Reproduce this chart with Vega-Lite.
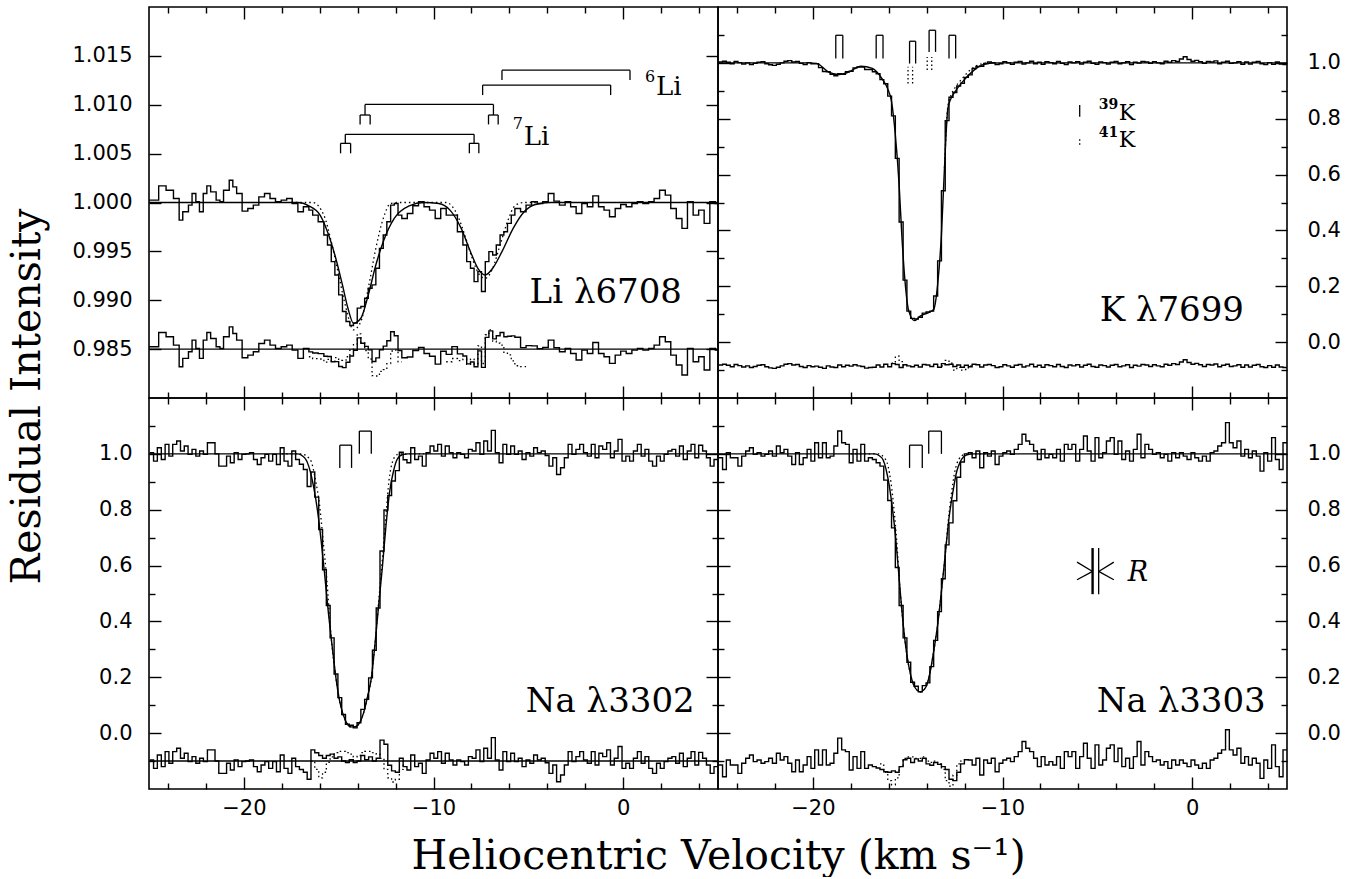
{
"$schema":"https://vega.github.io/schema/vega-lite/v6.json",
"background":"white",
"padding":{"left":5,"top":5,"right":5,"bottom":0},
"config":{"view":{"stroke":"black","strokeWidth":1.6},
"axis":{"grid":false,"domain":false,"tickColor":"black","tickWidth":1.4,"labelFont":"DejaVu Sans","labelFontSize":21,"labelColor":"black","titleFont":"DejaVu Serif","titleFontSize":41,"titleFontWeight":"normal","titleColor":"black"},
"line":{"color":"black"},"rule":{"color":"black"},"text":{"color":"black"}},
"spacing":0,"bounds":"flush","columns":2,
"concat":[
{"width":569,"height":391,"resolve":{"axis":{"x":"independent","y":"independent"}},
"layer":[
{"data":{"name":"li"},"mark":{"type":"line","interpolate":"step-after","strokeWidth":1.4},
"encoding":{"x":{"field":"x","type":"quantitative","scale":{"domain":[-25,5],"nice":false,"zero":false},"axis":null},
"y":{"field":"o","type":"quantitative","scale":{"domain":[0.98,1.02],"nice":false,"zero":false},"axis":{"orient":"left","values":[0.985,0.99,0.995,1,1.005,1.01,1.015],"format":".3f","ticks":false,"labelPadding":17,"title":"Residual Intensity","titleX":-122,"titleY":389,"titleAngle":-90,"titleAlign":"center","titleBaseline":"middle"}}}},
{"data":{"name":"li"},"mark":{"type":"line","interpolate":"step-after","strokeWidth":1.4},
"encoding":{"x":{"field":"x","type":"quantitative","scale":{"domain":[-25,5],"nice":false,"zero":false},"axis":{"orient":"bottom","values":[-20,-10,0],"tickSize":-12,"labels":false,"title":null}},
"y":{"field":"r","type":"quantitative","scale":{"domain":[0.98,1.02],"nice":false,"zero":false},"axis":{"orient":"left","values":[0.985,0.99,0.995,1,1.005,1.01,1.015],"tickSize":-12,"labels":false,"title":null}}}},
{"data":{"name":"liFit"},"mark":{"type":"line","interpolate":"monotone","strokeWidth":1.4},
"encoding":{"x":{"field":"x","type":"quantitative","scale":{"domain":[-25,5],"nice":false,"zero":false},"axis":{"orient":"bottom","values":[-24,-22,-18,-16,-14,-12,-8,-6,-4,-2,2,4],"tickSize":-6,"labels":false,"title":null}},
"y":{"field":"y","type":"quantitative","scale":{"domain":[0.98,1.02],"nice":false,"zero":false},"axis":null}}},
{"data":{"name":"liDot"},"mark":{"type":"line","interpolate":"monotone","strokeWidth":1.3,"strokeDash":[1.5,3]},
"encoding":{"x":{"field":"x","type":"quantitative","scale":{"domain":[-25,5],"nice":false,"zero":false},"axis":{"orient":"top","values":[-20,-10,0],"tickSize":-12,"labels":false,"title":null}},
"y":{"field":"y","type":"quantitative","scale":{"domain":[0.98,1.02],"nice":false,"zero":false},"axis":{"orient":"right","values":[0.985,0.99,0.995,1,1.005,1.01,1.015],"tickSize":-12,"labels":false,"title":null}}}},
{"data":{"name":"liDotRes"},"mark":{"type":"line","interpolate":"step-after","strokeWidth":1.3,"strokeDash":[1.5,3]},
"encoding":{"x":{"field":"x","type":"quantitative","scale":{"domain":[-25,5],"nice":false,"zero":false},"axis":{"orient":"top","values":[-24,-22,-18,-16,-14,-12,-8,-6,-4,-2,2,4],"tickSize":-6,"labels":false,"title":null}},
"y":{"field":"y","type":"quantitative","scale":{"domain":[0.98,1.02],"nice":false,"zero":false},"axis":null},"detail":{"field":"g","type":"nominal"}}},
{"data":{"values":[{}]},"mark":{"type":"rule","strokeWidth":1.4},"encoding":{"y":{"datum":0.985,"type":"quantitative","axis":null}}},
{"data":{"name":"liSeg"},"mark":{"type":"rule","strokeWidth":1.3},"encoding":{"x":{"field":"x","type":"quantitative","axis":null},"x2":{"field":"x2"},"y":{"field":"y","type":"quantitative","axis":null},"y2":{"field":"y2"}}},
{"data":{"name":"liSup"},"mark":{"type":"text","font":"DejaVu Serif","fontSize":16,"align":"left","baseline":"alphabetic"},"encoding":{"x":{"field":"x","type":"quantitative","axis":null},"y":{"field":"y","type":"quantitative","axis":null},"text":{"field":"t"}}},
{"data":{"name":"liTxt"},"mark":{"type":"text","font":"DejaVu Serif","fontSize":26,"align":"left","baseline":"alphabetic"},"encoding":{"x":{"field":"x","type":"quantitative","axis":null},"y":{"field":"y","type":"quantitative","axis":null},"text":{"field":"t"}}},
{"data":{"name":"liLab"},"mark":{"type":"text","font":"DejaVu Serif","fontSize":34,"align":"right","baseline":"alphabetic"},"encoding":{"x":{"field":"x","type":"quantitative","axis":null},"y":{"field":"y","type":"quantitative","axis":null},"text":{"field":"t"}}}
]},
{"width":569,"height":391,"resolve":{"axis":{"x":"independent","y":"independent"}},
"layer":[
{"data":{"name":"k"},"mark":{"type":"line","interpolate":"step-after","strokeWidth":1.4},
"encoding":{"x":{"field":"x","type":"quantitative","scale":{"domain":[-25,5],"nice":false,"zero":false},"axis":null},
"y":{"field":"o","type":"quantitative","scale":{"domain":[-0.2,1.2],"nice":false,"zero":false},"axis":{"orient":"right","values":[0,0.2,0.4,0.6,0.8,1],"format":".1f","ticks":false,"labelPadding":20,"title":null}}}},
{"data":{"name":"k"},"mark":{"type":"line","interpolate":"step-after","strokeWidth":1.4},
"encoding":{"x":{"field":"x","type":"quantitative","scale":{"domain":[-25,5],"nice":false,"zero":false},"axis":{"orient":"bottom","values":[-20,-10,0],"tickSize":-12,"labels":false,"title":null}},
"y":{"field":"r","type":"quantitative","scale":{"domain":[-0.2,1.2],"nice":false,"zero":false},"axis":{"orient":"right","values":[0,0.2,0.4,0.6,0.8,1],"tickSize":-12,"labels":false,"title":null}}}},
{"data":{"name":"kFit"},"mark":{"type":"line","interpolate":"monotone","strokeWidth":1.4},
"encoding":{"x":{"field":"x","type":"quantitative","scale":{"domain":[-25,5],"nice":false,"zero":false},"axis":{"orient":"bottom","values":[-24,-22,-18,-16,-14,-12,-8,-6,-4,-2,2,4],"tickSize":-6,"labels":false,"title":null}},
"y":{"field":"y","type":"quantitative","scale":{"domain":[-0.2,1.2],"nice":false,"zero":false},"axis":{"orient":"right","values":[-0.1,0.1,0.3,0.5,0.7,0.9,1.1],"tickSize":-6,"labels":false,"title":null}}}},
{"data":{"name":"kDot"},"mark":{"type":"line","interpolate":"monotone","strokeWidth":1.3,"strokeDash":[1.5,3]},
"encoding":{"x":{"field":"x","type":"quantitative","scale":{"domain":[-25,5],"nice":false,"zero":false},"axis":{"orient":"top","values":[-20,-10,0],"tickSize":-12,"labels":false,"title":null}},
"y":{"field":"y","type":"quantitative","scale":{"domain":[-0.2,1.2],"nice":false,"zero":false},"axis":{"orient":"left","values":[0,0.2,0.4,0.6,0.8,1],"tickSize":-12,"labels":false,"title":null}}}},
{"data":{"name":"kDotRes"},"mark":{"type":"line","interpolate":"step-after","strokeWidth":1.3,"strokeDash":[1.5,3]},
"encoding":{"x":{"field":"x","type":"quantitative","scale":{"domain":[-25,5],"nice":false,"zero":false},"axis":{"orient":"top","values":[-24,-22,-18,-16,-14,-12,-8,-6,-4,-2,2,4],"tickSize":-6,"labels":false,"title":null}},
"y":{"field":"y","type":"quantitative","scale":{"domain":[-0.2,1.2],"nice":false,"zero":false},"axis":{"orient":"left","values":[-0.1,0.1,0.3,0.5,0.7,0.9,1.1],"tickSize":-6,"labels":false,"title":null}},"detail":{"field":"g","type":"nominal"}}},
{"data":{"name":"kSeg"},"mark":{"type":"rule","strokeWidth":1.3},"encoding":{"x":{"field":"x","type":"quantitative","axis":null},"x2":{"field":"x2"},"y":{"field":"y","type":"quantitative","axis":null},"y2":{"field":"y2"}}},
{"data":{"name":"kDotSeg"},"mark":{"type":"rule","strokeWidth":1.3,"strokeDash":[1.5,2.5]},"encoding":{"x":{"field":"x","type":"quantitative","axis":null},"x2":{"field":"x2"},"y":{"field":"y","type":"quantitative","axis":null},"y2":{"field":"y2"}}},
{"data":{"name":"kSup"},"mark":{"type":"text","font":"DejaVu Serif","fontSize":14,"fontWeight":"bold","align":"left","baseline":"alphabetic"},"encoding":{"x":{"field":"x","type":"quantitative","axis":null},"y":{"field":"y","type":"quantitative","axis":null},"text":{"field":"t"}}},
{"data":{"name":"kTxt"},"mark":{"type":"text","font":"DejaVu Serif","fontSize":22,"align":"left","baseline":"alphabetic"},"encoding":{"x":{"field":"x","type":"quantitative","axis":null},"y":{"field":"y","type":"quantitative","axis":null},"text":{"field":"t"}}},
{"data":{"name":"kLab"},"mark":{"type":"text","font":"DejaVu Serif","fontSize":34,"align":"right","baseline":"alphabetic"},"encoding":{"x":{"field":"x","type":"quantitative","axis":null},"y":{"field":"y","type":"quantitative","axis":null},"text":{"field":"t"}}}
]},
{"width":569,"height":391,"resolve":{"axis":{"x":"independent","y":"independent"}},
"layer":[
{"data":{"name":"n2"},"mark":{"type":"line","interpolate":"step-after","strokeWidth":1.4},
"encoding":{"x":{"field":"x","type":"quantitative","scale":{"domain":[-25,5],"nice":false,"zero":false},"axis":{"orient":"bottom","values":[-20,-10,0],"ticks":false,"labelPadding":8,"title":"Heliocentric Velocity (km s⁻¹)","titleX":569,"titleY":79,"titleAlign":"center","titleAnchor":"middle","titleBaseline":"alphabetic","titleAngle":0}},
"y":{"field":"o","type":"quantitative","scale":{"domain":[-0.2,1.2],"nice":false,"zero":false},"axis":{"orient":"left","values":[0,0.2,0.4,0.6,0.8,1],"format":".1f","ticks":false,"labelPadding":17,"title":null}}}},
{"data":{"name":"n2"},"mark":{"type":"line","interpolate":"step-after","strokeWidth":1.4},
"encoding":{"x":{"field":"x","type":"quantitative","scale":{"domain":[-25,5],"nice":false,"zero":false},"axis":{"orient":"bottom","values":[-20,-10,0],"tickSize":-12,"labels":false,"title":null}},
"y":{"field":"r","type":"quantitative","scale":{"domain":[-0.2,1.2],"nice":false,"zero":false},"axis":{"orient":"left","values":[0,0.2,0.4,0.6,0.8,1],"tickSize":-12,"labels":false,"title":null}}}},
{"data":{"name":"n2Fit"},"mark":{"type":"line","interpolate":"monotone","strokeWidth":1.4},
"encoding":{"x":{"field":"x","type":"quantitative","scale":{"domain":[-25,5],"nice":false,"zero":false},"axis":{"orient":"bottom","values":[-24,-22,-18,-16,-14,-12,-8,-6,-4,-2,2,4],"tickSize":-6,"labels":false,"title":null}},
"y":{"field":"y","type":"quantitative","scale":{"domain":[-0.2,1.2],"nice":false,"zero":false},"axis":{"orient":"left","values":[-0.1,0.1,0.3,0.5,0.7,0.9,1.1],"tickSize":-6,"labels":false,"title":null}}}},
{"data":{"name":"n2Dot"},"mark":{"type":"line","interpolate":"monotone","strokeWidth":1.3,"strokeDash":[1.5,3]},
"encoding":{"x":{"field":"x","type":"quantitative","scale":{"domain":[-25,5],"nice":false,"zero":false},"axis":{"orient":"top","values":[-20,-10,0],"tickSize":-12,"labels":false,"title":null}},
"y":{"field":"y","type":"quantitative","scale":{"domain":[-0.2,1.2],"nice":false,"zero":false},"axis":{"orient":"right","values":[0,0.2,0.4,0.6,0.8,1],"tickSize":-12,"labels":false,"title":null}}}},
{"data":{"name":"n2DotRes"},"mark":{"type":"line","interpolate":"step-after","strokeWidth":1.3,"strokeDash":[1.5,3]},
"encoding":{"x":{"field":"x","type":"quantitative","scale":{"domain":[-25,5],"nice":false,"zero":false},"axis":{"orient":"top","values":[-24,-22,-18,-16,-14,-12,-8,-6,-4,-2,2,4],"tickSize":-6,"labels":false,"title":null}},
"y":{"field":"y","type":"quantitative","scale":{"domain":[-0.2,1.2],"nice":false,"zero":false},"axis":{"orient":"right","values":[-0.1,0.1,0.3,0.5,0.7,0.9,1.1],"tickSize":-6,"labels":false,"title":null}}}},
{"data":{"values":[{}]},"mark":{"type":"rule","strokeWidth":1.4},"encoding":{"y":{"datum":-0.1,"type":"quantitative","axis":null}}},
{"data":{"name":"n2Seg"},"mark":{"type":"rule","strokeWidth":1.3},"encoding":{"x":{"field":"x","type":"quantitative","axis":null},"x2":{"field":"x2"},"y":{"field":"y","type":"quantitative","axis":null},"y2":{"field":"y2"}}},
{"data":{"name":"n2Lab"},"mark":{"type":"text","font":"DejaVu Serif","fontSize":34,"align":"right","baseline":"alphabetic"},"encoding":{"x":{"field":"x","type":"quantitative","axis":null},"y":{"field":"y","type":"quantitative","axis":null},"text":{"field":"t"}}}
]},
{"width":569,"height":391,"resolve":{"axis":{"x":"independent","y":"independent"}},
"layer":[
{"data":{"name":"n3"},"mark":{"type":"line","interpolate":"step-after","strokeWidth":1.4},
"encoding":{"x":{"field":"x","type":"quantitative","scale":{"domain":[-25,5],"nice":false,"zero":false},"axis":{"orient":"bottom","values":[-20,-10,0],"ticks":false,"labelPadding":8,"title":null}},
"y":{"field":"o","type":"quantitative","scale":{"domain":[-0.2,1.2],"nice":false,"zero":false},"axis":{"orient":"right","values":[0,0.2,0.4,0.6,0.8,1],"format":".1f","ticks":false,"labelPadding":20,"title":null}}}},
{"data":{"name":"n3"},"mark":{"type":"line","interpolate":"step-after","strokeWidth":1.4},
"encoding":{"x":{"field":"x","type":"quantitative","scale":{"domain":[-25,5],"nice":false,"zero":false},"axis":{"orient":"bottom","values":[-20,-10,0],"tickSize":-12,"labels":false,"title":null}},
"y":{"field":"r","type":"quantitative","scale":{"domain":[-0.2,1.2],"nice":false,"zero":false},"axis":{"orient":"right","values":[0,0.2,0.4,0.6,0.8,1],"tickSize":-12,"labels":false,"title":null}}}},
{"data":{"name":"n3Fit"},"mark":{"type":"line","interpolate":"monotone","strokeWidth":1.4},
"encoding":{"x":{"field":"x","type":"quantitative","scale":{"domain":[-25,5],"nice":false,"zero":false},"axis":{"orient":"bottom","values":[-24,-22,-18,-16,-14,-12,-8,-6,-4,-2,2,4],"tickSize":-6,"labels":false,"title":null}},
"y":{"field":"y","type":"quantitative","scale":{"domain":[-0.2,1.2],"nice":false,"zero":false},"axis":{"orient":"right","values":[-0.1,0.1,0.3,0.5,0.7,0.9,1.1],"tickSize":-6,"labels":false,"title":null}}}},
{"data":{"name":"n3Dot"},"mark":{"type":"line","interpolate":"monotone","strokeWidth":1.3,"strokeDash":[1.5,3]},
"encoding":{"x":{"field":"x","type":"quantitative","scale":{"domain":[-25,5],"nice":false,"zero":false},"axis":{"orient":"top","values":[-20,-10,0],"tickSize":-12,"labels":false,"title":null}},
"y":{"field":"y","type":"quantitative","scale":{"domain":[-0.2,1.2],"nice":false,"zero":false},"axis":{"orient":"left","values":[0,0.2,0.4,0.6,0.8,1],"tickSize":-12,"labels":false,"title":null}}}},
{"data":{"name":"n3DotRes"},"mark":{"type":"line","interpolate":"step-after","strokeWidth":1.3,"strokeDash":[1.5,3]},
"encoding":{"x":{"field":"x","type":"quantitative","scale":{"domain":[-25,5],"nice":false,"zero":false},"axis":{"orient":"top","values":[-24,-22,-18,-16,-14,-12,-8,-6,-4,-2,2,4],"tickSize":-6,"labels":false,"title":null}},
"y":{"field":"y","type":"quantitative","scale":{"domain":[-0.2,1.2],"nice":false,"zero":false},"axis":{"orient":"left","values":[-0.1,0.1,0.3,0.5,0.7,0.9,1.1],"tickSize":-6,"labels":false,"title":null}}}},
{"data":{"name":"n3Seg"},"mark":{"type":"rule","strokeWidth":1.3},"encoding":{"x":{"field":"x","type":"quantitative","axis":null},"x2":{"field":"x2"},"y":{"field":"y","type":"quantitative","axis":null},"y2":{"field":"y2"}}},
{"data":{"name":"n3Thick"},"mark":{"type":"rule","strokeWidth":2.4},"encoding":{"x":{"field":"x","type":"quantitative","axis":null},"x2":{"field":"x2"},"y":{"field":"y","type":"quantitative","axis":null},"y2":{"field":"y2"}}},
{"data":{"name":"n3R"},"mark":{"type":"text","font":"DejaVu Serif","fontSize":27,"fontStyle":"italic","align":"left","baseline":"alphabetic"},"encoding":{"x":{"field":"x","type":"quantitative","axis":null},"y":{"field":"y","type":"quantitative","axis":null},"text":{"field":"t"}}},
{"data":{"name":"n3Lab"},"mark":{"type":"text","font":"DejaVu Serif","fontSize":34,"align":"right","baseline":"alphabetic"},"encoding":{"x":{"field":"x","type":"quantitative","axis":null},"y":{"field":"y","type":"quantitative","axis":null},"text":{"field":"t"}}}
]}
],
"datasets":{
"li":[{"x":-25,"o":1.00024,"r":0.98524},{"x":-24.49,"o":1.0017,"r":0.9867},{"x":-24.1,"o":1.00126,"r":0.98626},{"x":-23.71,"o":1.00041,"r":0.98541},{"x":-23.41,"o":0.9982,"r":0.9832},{"x":-23.22,"o":0.99905,"r":0.98405},{"x":-22.92,"o":0.99973,"r":0.98473},{"x":-22.73,"o":1.00092,"r":0.98592},{"x":-22.53,"o":1.00007,"r":0.98507},{"x":-22.34,"o":0.99905,"r":0.98405},{"x":-22.14,"o":1.00092,"r":0.98592},{"x":-21.95,"o":1.0017,"r":0.9867},{"x":-21.75,"o":1.00109,"r":0.98609},{"x":-21.46,"o":1.00024,"r":0.98524},{"x":-21.26,"o":1.00007,"r":0.98507},{"x":-21.07,"o":1.00126,"r":0.98626},{"x":-20.77,"o":1.00228,"r":0.98728},{"x":-20.58,"o":1.0016,"r":0.9866},{"x":-20.38,"o":1.00092,"r":0.98592},{"x":-20.09,"o":0.99912,"r":0.98412},{"x":-19.79,"o":0.99939,"r":0.98439},{"x":-19.5,"o":0.99973,"r":0.98473},{"x":-19.21,"o":1.00058,"r":0.98558},{"x":-18.91,"o":1.00092,"r":0.98592},{"x":-18.62,"o":1.00041,"r":0.98541},{"x":-18.33,"o":1.00007,"r":0.98507},{"x":-18.03,"o":1.00024,"r":0.98524},{"x":-17.74,"o":1.00041,"r":0.98541},{"x":-17.45,"o":0.9999,"r":0.9849},{"x":-17.15,"o":0.99905,"r":0.98405},{"x":-16.86,"o":0.99956,"r":0.98506},{"x":-16.57,"o":0.99922,"r":0.98472},{"x":-16.37,"o":0.99871,"r":0.98461},{"x":-16.08,"o":0.99803,"r":0.98454},{"x":-15.78,"o":0.99667,"r":0.98427},{"x":-15.59,"o":0.99565,"r":0.98425},{"x":-15.39,"o":0.99395,"r":0.98371},{"x":-15.2,"o":0.99259,"r":0.98372},{"x":-15,"o":0.99055,"r":0.98322},{"x":-14.8,"o":0.98885,"r":0.98311},{"x":-14.61,"o":0.98783,"r":0.98365},{"x":-14.41,"o":0.98742,"r":0.9843},{"x":-14.22,"o":0.98766,"r":0.98488},{"x":-14.02,"o":0.98919,"r":0.98615},{"x":-13.83,"o":0.98936,"r":0.9856},{"x":-13.63,"o":0.99021,"r":0.98528},{"x":-13.44,"o":0.99123,"r":0.98492},{"x":-13.24,"o":0.99157,"r":0.98373},{"x":-13.04,"o":0.99327,"r":0.98411},{"x":-12.85,"o":0.99531,"r":0.98493},{"x":-12.65,"o":0.99667,"r":0.98531},{"x":-12.46,"o":0.99803,"r":0.98585},{"x":-12.26,"o":0.99973,"r":0.98677},{"x":-12.07,"o":0.9999,"r":0.98637},{"x":-11.87,"o":0.99871,"r":0.98485},{"x":-11.67,"o":0.99837,"r":0.98412},{"x":-11.38,"o":0.99888,"r":0.9842},{"x":-11.09,"o":0.99966,"r":0.98486},{"x":-10.79,"o":1.00007,"r":0.98517},{"x":-10.5,"o":0.99956,"r":0.98456},{"x":-10.21,"o":0.99922,"r":0.98427},{"x":-9.91,"o":0.99837,"r":0.98347},{"x":-9.62,"o":0.99939,"r":0.98479},{"x":-9.33,"o":0.99871,"r":0.98446},{"x":-9.03,"o":0.99871,"r":0.98526},{"x":-8.74,"o":0.99701,"r":0.98451},{"x":-8.45,"o":0.99565,"r":0.98429},{"x":-8.25,"o":0.99395,"r":0.98349},{"x":-8.05,"o":0.99327,"r":0.98369},{"x":-7.86,"o":0.99191,"r":0.9832},{"x":-7.66,"o":0.99293,"r":0.98482},{"x":-7.47,"o":0.99089,"r":0.98313},{"x":-7.27,"o":0.99395,"r":0.9862},{"x":-7.08,"o":0.99497,"r":0.98687},{"x":-6.88,"o":0.99463,"r":0.98605},{"x":-6.69,"o":0.99565,"r":0.98637},{"x":-6.49,"o":0.99667,"r":0.9867},{"x":-6.29,"o":0.99701,"r":0.98627},{"x":-6.1,"o":0.99786,"r":0.98631},{"x":-5.9,"o":0.99871,"r":0.98636},{"x":-5.71,"o":0.99939,"r":0.98622},{"x":-5.41,"o":0.99905,"r":0.98515},{"x":-5.12,"o":0.99973,"r":0.98536},{"x":-4.83,"o":1.00007,"r":0.98533},{"x":-4.53,"o":0.9999,"r":0.98505},{"x":-4.24,"o":1.00007,"r":0.98517},{"x":-3.95,"o":1.00092,"r":0.98592},{"x":-3.65,"o":1.00014,"r":0.98514},{"x":-3.36,"o":0.99973,"r":0.98473},{"x":-3.06,"o":1.00007,"r":0.98507},{"x":-2.77,"o":0.99956,"r":0.98456},{"x":-2.48,"o":0.99888,"r":0.98388},{"x":-2.18,"o":0.9999,"r":0.9849},{"x":-1.89,"o":0.99956,"r":0.98456},{"x":-1.6,"o":1.00068,"r":0.98568},{"x":-1.3,"o":0.99956,"r":0.98456},{"x":-1.01,"o":0.99922,"r":0.98422},{"x":-0.72,"o":0.99854,"r":0.98354},{"x":-0.42,"o":0.99939,"r":0.98439},{"x":-0.13,"o":0.9998,"r":0.9848},{"x":0.16,"o":0.99956,"r":0.98456},{"x":0.46,"o":0.9999,"r":0.9849},{"x":0.75,"o":1.00007,"r":0.98507},{"x":1.04,"o":0.9999,"r":0.9849},{"x":1.34,"o":1.00007,"r":0.98507},{"x":1.63,"o":1.00041,"r":0.98541},{"x":1.92,"o":1.00126,"r":0.98626},{"x":2.22,"o":1.00075,"r":0.98575},{"x":2.51,"o":0.99939,"r":0.98439},{"x":2.8,"o":0.99837,"r":0.98337},{"x":3.1,"o":0.99735,"r":0.98235},{"x":3.39,"o":1.00007,"r":0.98507},{"x":3.69,"o":0.99871,"r":0.98371},{"x":3.98,"o":0.99922,"r":0.98422},{"x":4.27,"o":0.99786,"r":0.98286},{"x":4.57,"o":1.00007,"r":0.98507},{"x":4.86,"o":0.9999,"r":0.9849},{"x":5,"o":0.9999,"r":0.9849}],
"liFit":[{"x":-25,"y":1},{"x":-17.15,"y":1},{"x":-16.57,"y":0.99966},{"x":-15.98,"y":0.99871},{"x":-15.59,"y":0.99701},{"x":-15.2,"y":0.99463},{"x":-14.8,"y":0.99156},{"x":-14.51,"y":0.98918},{"x":-14.22,"y":0.98765},{"x":-13.83,"y":0.98816},{"x":-13.44,"y":0.99054},{"x":-13.04,"y":0.99361},{"x":-12.65,"y":0.99599},{"x":-12.07,"y":0.99837},{"x":-11.28,"y":0.99966},{"x":-10.5,"y":1},{"x":-9.72,"y":0.9999},{"x":-9.13,"y":0.99922},{"x":-8.54,"y":0.99735},{"x":-8.05,"y":0.99497},{"x":-7.66,"y":0.99327},{"x":-7.27,"y":0.99259},{"x":-6.88,"y":0.99327},{"x":-6.39,"y":0.99497},{"x":-5.8,"y":0.99735},{"x":-5.22,"y":0.99905},{"x":-4.63,"y":0.9998},{"x":-3.85,"y":1},{"x":5,"y":1}],
"liDot":[{"x":-17.5,"y":1},{"x":-16.37,"y":1},{"x":-15.78,"y":0.99871},{"x":-15.39,"y":0.99599},{"x":-15,"y":0.99259},{"x":-14.61,"y":0.98918},{"x":-14.22,"y":0.98697},{"x":-13.83,"y":0.98782},{"x":-13.44,"y":0.99122},{"x":-13.04,"y":0.99531},{"x":-12.65,"y":0.99837},{"x":-12.26,"y":0.9999},{"x":-11.87,"y":1},{"x":-9.33,"y":1},{"x":-8.74,"y":0.99871},{"x":-8.35,"y":0.99667},{"x":-7.96,"y":0.99429},{"x":-7.57,"y":0.99259},{"x":-7.27,"y":0.99224},{"x":-6.88,"y":0.99327},{"x":-6.49,"y":0.99565},{"x":-6.1,"y":0.99803},{"x":-5.71,"y":0.99966},{"x":-5.22,"y":1},{"x":-4.5,"y":1}],
"liDotRes":[{"g":1,"x":-16.57,"y":0.98422},{"g":1,"x":-16.37,"y":0.98403},{"g":1,"x":-16.08,"y":0.98399},{"g":1,"x":-15.78,"y":0.98366},{"g":1,"x":-15.59,"y":0.98396},{"g":1,"x":-15.39,"y":0.98374},{"g":1,"x":-15.2,"y":0.98413},{"g":1,"x":-15,"y":0.98385},{"g":1,"x":-14.8,"y":0.98388},{"g":1,"x":-14.61,"y":0.98422},{"g":1,"x":-14.41,"y":0.98497},{"g":1,"x":-14.22,"y":0.98547},{"g":1,"x":-14.02,"y":0.98657},{"g":1,"x":-13.83,"y":0.98567},{"g":1,"x":-13.63,"y":0.98484},{"g":1,"x":-13.44,"y":0.98399},{"g":1,"x":-13.24,"y":0.98228},{"g":1,"x":-13.04,"y":0.98225},{"g":1,"x":-12.85,"y":0.98273},{"g":1,"x":-12.65,"y":0.98291},{"g":1,"x":-12.46,"y":0.98352},{"g":1,"x":-12.26,"y":0.98481},{"g":1,"x":-12.07,"y":0.9849},{"g":1,"x":-11.87,"y":0.98371},{"g":1,"x":-11.67,"y":0.98371},{"g":2,"x":-9.33,"y":0.98371},{"g":2,"x":-9.03,"y":0.98404},{"g":2,"x":-8.74,"y":0.98382},{"g":2,"x":-8.45,"y":0.98398},{"g":2,"x":-8.25,"y":0.98344},{"g":2,"x":-8.05,"y":0.98398},{"g":2,"x":-7.86,"y":0.98348},{"g":2,"x":-7.66,"y":0.98534},{"g":2,"x":-7.47,"y":0.98353},{"g":2,"x":-7.27,"y":0.98647},{"g":2,"x":-7.08,"y":0.98696},{"g":2,"x":-6.88,"y":0.98581},{"g":2,"x":-6.69,"y":0.98561},{"g":2,"x":-6.49,"y":0.98541},{"g":2,"x":-6.29,"y":0.98459},{"g":2,"x":-6.1,"y":0.98442},{"g":2,"x":-5.9,"y":0.9838},{"g":2,"x":-5.71,"y":0.9833},{"g":2,"x":-5.41,"y":0.9832},{"g":2,"x":-5.12,"y":0.9832}],
"liSeg":[{"x":-14.65,"x2":-14.65,"y":1.00605,"y2":1.00697},{"x":-14.65,"x2":-7.86,"y":1.00697,"y2":1.00697},{"x":-7.86,"x2":-7.86,"y":1.00605,"y2":1.00697},{"x":-14.9,"x2":-14.37,"y":1.00605,"y2":1.00605},{"x":-14.9,"x2":-14.9,"y":1.00503,"y2":1.00605},{"x":-14.37,"x2":-14.37,"y":1.00503,"y2":1.00605},{"x":-8.11,"x2":-7.61,"y":1.00605,"y2":1.00605},{"x":-8.11,"x2":-8.11,"y":1.00503,"y2":1.00605},{"x":-7.61,"x2":-7.61,"y":1.00503,"y2":1.00605},
{"x":-13.61,"x2":-13.61,"y":1.00895,"y2":1.01003},{"x":-13.61,"x2":-6.84,"y":1.01003,"y2":1.01003},{"x":-6.84,"x2":-6.84,"y":1.00895,"y2":1.01003},{"x":-13.87,"x2":-13.34,"y":1.00895,"y2":1.00895},{"x":-13.87,"x2":-13.87,"y":1.00799,"y2":1.00895},{"x":-13.34,"x2":-13.34,"y":1.00799,"y2":1.00895},{"x":-7.1,"x2":-6.59,"y":1.00895,"y2":1.00895},{"x":-7.1,"x2":-7.1,"y":1.00799,"y2":1.00895},{"x":-6.59,"x2":-6.59,"y":1.00799,"y2":1.00895},
{"x":-7.41,"x2":-0.66,"y":1.01201,"y2":1.01201},{"x":-7.41,"x2":-7.41,"y":1.01099,"y2":1.01201},{"x":-0.66,"x2":-0.66,"y":1.01099,"y2":1.01201},
{"x":-6.39,"x2":0.36,"y":1.01354,"y2":1.01354},{"x":-6.39,"x2":-6.39,"y":1.01252,"y2":1.01354},{"x":0.36,"x2":0.36,"y":1.01252,"y2":1.01354}],
"liSup":[{"x":-5.82,"y":1.00755,"t":"7"},{"x":1.15,"y":1.01235,"t":"6"}],
"liTxt":[{"x":-5.24,"y":1.00592,"t":"Li"},{"x":1.73,"y":1.01102,"t":"Li"}],
"liLab":[{"x":3.1,"y":0.98972,"t":"Li λ6708"}],
"k":[{"x":-24.96,"o":1.003,"r":-0.082},{"x":-24.76,"o":1.006,"r":-0.079},{"x":-24.56,"o":1.002,"r":-0.083},{"x":-24.35,"o":0.997,"r":-0.088},{"x":-24.15,"o":1.005,"r":-0.08},{"x":-23.95,"o":1.001,"r":-0.084},{"x":-23.75,"o":0.996,"r":-0.089},{"x":-23.54,"o":1.0,"r":-0.085},{"x":-23.34,"o":0.994,"r":-0.091},{"x":-23.14,"o":0.998,"r":-0.087},{"x":-22.94,"o":1.002,"r":-0.083},{"x":-22.73,"o":1.004,"r":-0.081},{"x":-22.53,"o":0.997,"r":-0.088},{"x":-22.33,"o":0.993,"r":-0.092},{"x":-22.13,"o":0.991,"r":-0.094},{"x":-21.92,"o":0.995,"r":-0.09},{"x":-21.72,"o":1.0,"r":-0.085},{"x":-21.52,"o":1.006,"r":-0.079},{"x":-21.32,"o":1.008,"r":-0.077},{"x":-21.11,"o":1.003,"r":-0.082},{"x":-20.91,"o":1.005,"r":-0.08},{"x":-20.71,"o":0.998,"r":-0.087},{"x":-20.51,"o":0.994,"r":-0.091},{"x":-20.3,"o":1.001,"r":-0.084},{"x":-20.1,"o":0.997,"r":-0.088},{"x":-19.9,"o":0.997,"r":-0.086},{"x":-19.7,"o":0.983,"r":-0.09},{"x":-19.49,"o":0.969,"r":-0.094},{"x":-19.29,"o":0.968,"r":-0.085},{"x":-19.09,"o":0.959,"r":-0.089},{"x":-18.89,"o":0.954,"r":-0.091},{"x":-18.69,"o":0.961,"r":-0.082},{"x":-18.48,"o":0.959,"r":-0.088},{"x":-18.28,"o":0.968,"r":-0.083},{"x":-18.08,"o":0.97,"r":-0.086},{"x":-17.88,"o":0.982,"r":-0.081},{"x":-17.67,"o":0.985,"r":-0.085},{"x":-17.47,"o":0.985,"r":-0.087},{"x":-17.27,"o":0.976,"r":-0.093},{"x":-17.07,"o":0.976,"r":-0.091},{"x":-16.86,"o":0.968,"r":-0.09},{"x":-16.66,"o":0.961,"r":-0.082},{"x":-16.46,"o":0.94,"r":-0.089},{"x":-16.26,"o":0.925,"r":-0.079},{"x":-16.05,"o":0.881,"r":-0.088},{"x":-15.85,"o":0.81,"r":-0.077},{"x":-15.65,"o":0.658,"r":-0.08},{"x":-15.45,"o":0.43,"r":-0.091},{"x":-15.24,"o":0.222,"r":-0.081},{"x":-15.04,"o":0.111,"r":-0.085},{"x":-14.84,"o":0.085,"r":-0.088},{"x":-14.64,"o":0.083,"r":-0.083},{"x":-14.44,"o":0.089,"r":-0.089},{"x":-14.23,"o":0.104,"r":-0.08},{"x":-14.03,"o":0.108,"r":-0.082},{"x":-13.83,"o":0.111,"r":-0.087},{"x":-13.63,"o":0.165,"r":-0.079},{"x":-13.42,"o":0.291,"r":-0.09},{"x":-13.22,"o":0.542,"r":-0.077},{"x":-13.02,"o":0.793,"r":-0.081},{"x":-12.82,"o":0.877,"r":-0.079},{"x":-12.61,"o":0.894,"r":-0.087},{"x":-12.41,"o":0.917,"r":-0.082},{"x":-12.21,"o":0.927,"r":-0.09},{"x":-12.01,"o":0.948,"r":-0.083},{"x":-11.8,"o":0.957,"r":-0.088},{"x":-11.6,"o":0.98,"r":-0.079},{"x":-11.4,"o":0.987,"r":-0.081},{"x":-11.2,"o":0.988,"r":-0.089},{"x":-10.99,"o":0.998,"r":-0.082},{"x":-10.79,"o":1.003,"r":-0.08},{"x":-10.59,"o":1.001,"r":-0.084},{"x":-10.39,"o":0.994,"r":-0.091},{"x":-10.18,"o":0.997,"r":-0.088},{"x":-9.98,"o":1.004,"r":-0.081},{"x":-9.78,"o":1.0,"r":-0.085},{"x":-9.58,"o":0.995,"r":-0.09},{"x":-9.38,"o":1.002,"r":-0.083},{"x":-9.17,"o":1.005,"r":-0.08},{"x":-8.97,"o":0.996,"r":-0.089},{"x":-8.77,"o":1.0,"r":-0.085},{"x":-8.57,"o":1.006,"r":-0.079},{"x":-8.36,"o":0.997,"r":-0.088},{"x":-8.16,"o":1.002,"r":-0.083},{"x":-7.96,"o":0.995,"r":-0.09},{"x":-7.76,"o":1.004,"r":-0.081},{"x":-7.55,"o":1.001,"r":-0.084},{"x":-7.35,"o":0.997,"r":-0.088},{"x":-7.15,"o":1.005,"r":-0.08},{"x":-6.95,"o":0.998,"r":-0.087},{"x":-6.74,"o":0.994,"r":-0.091},{"x":-6.54,"o":1.003,"r":-0.082},{"x":-6.34,"o":1.0,"r":-0.085},{"x":-6.14,"o":1.004,"r":-0.081},{"x":-5.93,"o":0.996,"r":-0.089},{"x":-5.73,"o":1.002,"r":-0.083},{"x":-5.53,"o":1.006,"r":-0.079},{"x":-5.33,"o":0.998,"r":-0.087},{"x":-5.12,"o":0.995,"r":-0.09},{"x":-4.92,"o":1.003,"r":-0.082},{"x":-4.72,"o":1.001,"r":-0.084},{"x":-4.52,"o":0.996,"r":-0.089},{"x":-4.32,"o":1.002,"r":-0.083},{"x":-4.11,"o":1.005,"r":-0.08},{"x":-3.91,"o":0.997,"r":-0.088},{"x":-3.71,"o":1.0,"r":-0.085},{"x":-3.51,"o":1.004,"r":-0.081},{"x":-3.3,"o":0.994,"r":-0.091},{"x":-3.1,"o":1.002,"r":-0.083},{"x":-2.9,"o":0.999,"r":-0.086},{"x":-2.7,"o":1.005,"r":-0.08},{"x":-2.49,"o":1.003,"r":-0.082},{"x":-2.29,"o":0.998,"r":-0.087},{"x":-2.09,"o":1.004,"r":-0.081},{"x":-1.89,"o":1.0,"r":-0.085},{"x":-1.68,"o":0.997,"r":-0.088},{"x":-1.48,"o":1.006,"r":-0.079},{"x":-1.28,"o":1.002,"r":-0.083},{"x":-1.08,"o":1.008,"r":-0.077},{"x":-0.87,"o":1.005,"r":-0.08},{"x":-0.67,"o":1.014,"r":-0.071},{"x":-0.47,"o":1.022,"r":-0.063},{"x":-0.27,"o":1.012,"r":-0.073},{"x":-0.06,"o":1.006,"r":-0.079},{"x":0.14,"o":1.009,"r":-0.076},{"x":0.34,"o":1.004,"r":-0.081},{"x":0.54,"o":0.998,"r":-0.087},{"x":0.75,"o":1.005,"r":-0.08},{"x":0.95,"o":1.003,"r":-0.082},{"x":1.15,"o":1.007,"r":-0.078},{"x":1.35,"o":0.997,"r":-0.088},{"x":1.55,"o":1.002,"r":-0.083},{"x":1.76,"o":1.006,"r":-0.079},{"x":1.96,"o":0.998,"r":-0.087},{"x":2.16,"o":1.0,"r":-0.085},{"x":2.36,"o":1.004,"r":-0.081},{"x":2.57,"o":0.995,"r":-0.09},{"x":2.77,"o":1.003,"r":-0.082},{"x":2.97,"o":0.996,"r":-0.089},{"x":3.17,"o":1.002,"r":-0.083},{"x":3.38,"o":1.005,"r":-0.08},{"x":3.58,"o":0.997,"r":-0.088},{"x":3.78,"o":0.994,"r":-0.091},{"x":3.98,"o":1.001,"r":-0.084},{"x":4.19,"o":0.995,"r":-0.09},{"x":4.39,"o":1.003,"r":-0.082},{"x":4.59,"o":0.996,"r":-0.089},{"x":4.79,"o":0.994,"r":-0.091},{"x":5,"o":0.994,"r":-0.091}],
"kFit":[{"x":-25,"y":1},{"x":-20.2,"y":1},{"x":-19.8,"y":0.998},{"x":-19.19,"y":0.968},{"x":-18.59,"y":0.958},{"x":-18.08,"y":0.968},{"x":-17.47,"y":0.988},{"x":-16.86,"y":0.98},{"x":-16.36,"y":0.944},{"x":-16.06,"y":0.908},{"x":-15.85,"y":0.861},{"x":-15.65,"y":0.742},{"x":-15.45,"y":0.563},{"x":-15.31,"y":0.385},{"x":-15.14,"y":0.218},{"x":-14.94,"y":0.111},{"x":-14.64,"y":0.077},{"x":-14.34,"y":0.093},{"x":-13.93,"y":0.105},{"x":-13.63,"y":0.117},{"x":-13.42,"y":0.206},{"x":-13.22,"y":0.385},{"x":-13.06,"y":0.623},{"x":-12.88,"y":0.837},{"x":-12.71,"y":0.873},{"x":-12.51,"y":0.896},{"x":-12.11,"y":0.932},{"x":-11.5,"y":0.974},{"x":-11.1,"y":0.992},{"x":-10.69,"y":0.998},{"x":-10.2,"y":1},{"x":5,"y":1}],
"kDot":[{"x":-13.06,"y":0.623},{"x":-12.88,"y":0.845},{"x":-12.71,"y":0.885},{"x":-12.51,"y":0.91},{"x":-12.11,"y":0.945},{"x":-11.7,"y":0.975},{"x":-11.3,"y":0.992},{"x":-10.9,"y":0.999},{"x":-10.5,"y":1}],
"kDotRes":[{"g":1,"x":-15.85,"y":-0.075},{"g":1,"x":-15.65,"y":-0.05},{"g":1,"x":-15.45,"y":-0.07},{"g":1,"x":-15.24,"y":-0.085},{"g":1,"x":-15.04,"y":-0.085},{"g":2,"x":-13.22,"y":-0.085},{"g":2,"x":-13.02,"y":-0.065},{"g":2,"x":-12.82,"y":-0.075},{"g":2,"x":-12.61,"y":-0.1},{"g":2,"x":-12.41,"y":-0.09},{"g":2,"x":-12.21,"y":-0.1},{"g":2,"x":-12.01,"y":-0.098},{"g":2,"x":-11.8,"y":-0.085},{"g":2,"x":-11.6,"y":-0.085}],
"kSeg":[{"x":-18.79,"x2":-18.42,"y":1.0988,"y2":1.0988},{"x":-18.79,"x2":-18.79,"y":1.0155,"y2":1.0988},{"x":-18.42,"x2":-18.42,"y":1.0155,"y2":1.0988},
{"x":-16.66,"x2":-16.3,"y":1.0988,"y2":1.0988},{"x":-16.66,"x2":-16.66,"y":1.0155,"y2":1.0988},{"x":-16.3,"x2":-16.3,"y":1.0155,"y2":1.0988},
{"x":-14.9,"x2":-14.58,"y":1.0774,"y2":1.0774},{"x":-14.9,"x2":-14.9,"y":0.9976,"y2":1.0774},{"x":-14.58,"x2":-14.58,"y":0.9976,"y2":1.0774},
{"x":-13.87,"x2":-13.53,"y":1.1167,"y2":1.1167},{"x":-13.87,"x2":-13.87,"y":1.0393,"y2":1.1167},{"x":-13.53,"x2":-13.53,"y":1.0393,"y2":1.1167},
{"x":-12.82,"x2":-12.47,"y":1.0988,"y2":1.0988},{"x":-12.82,"x2":-12.82,"y":1.0155,"y2":1.0988},{"x":-12.47,"x2":-12.47,"y":1.0155,"y2":1.0988},
{"x":-5.93,"x2":-5.93,"y":0.807,"y2":0.849}],
"kDotSeg":[{"x":-14.98,"x2":-14.98,"y":0.926,"y2":0.986},{"x":-14.74,"x2":-14.74,"y":0.926,"y2":0.986},{"x":-13.97,"x2":-13.97,"y":0.974,"y2":1.021},{"x":-13.73,"x2":-13.73,"y":0.974,"y2":1.021},{"x":-5.93,"x2":-5.93,"y":0.707,"y2":0.728}],
"kSup":[{"x":-4.93,"y":0.836,"t":"39"},{"x":-4.93,"y":0.736,"t":"41"}],
"kTxt":[{"x":-3.87,"y":0.796,"t":"K"},{"x":-3.87,"y":0.7,"t":"K"}],
"kLab":[{"x":2.73,"y":0.075,"t":"K λ7699"}],
"n2":[{"x":-24.96,"o":1.004,"r":-0.096},{"x":-24.76,"o":0.974,"r":-0.126},{"x":-24.56,"o":1.022,"r":-0.078},{"x":-24.35,"o":0.98,"r":-0.12},{"x":-24.15,"o":1.034,"r":-0.066},{"x":-23.95,"o":0.992,"r":-0.108},{"x":-23.75,"o":1.034,"r":-0.066},{"x":-23.54,"o":1.046,"r":-0.054},{"x":-23.34,"o":1.01,"r":-0.09},{"x":-23.14,"o":1.028,"r":-0.072},{"x":-22.94,"o":0.998,"r":-0.102},{"x":-22.73,"o":1.016,"r":-0.084},{"x":-22.53,"o":0.992,"r":-0.108},{"x":-22.33,"o":1.01,"r":-0.09},{"x":-22.13,"o":0.998,"r":-0.102},{"x":-21.92,"o":1.04,"r":-0.06},{"x":-21.72,"o":1.04,"r":-0.06},{"x":-21.52,"o":1.0,"r":-0.1},{"x":-21.32,"o":0.956,"r":-0.144},{"x":-21.11,"o":0.956,"r":-0.144},{"x":-20.91,"o":0.992,"r":-0.108},{"x":-20.71,"o":0.968,"r":-0.132},{"x":-20.51,"o":1.004,"r":-0.096},{"x":-20.3,"o":0.98,"r":-0.12},{"x":-20.1,"o":0.998,"r":-0.102},{"x":-19.9,"o":1.0,"r":-0.1},{"x":-19.7,"o":1.004,"r":-0.096},{"x":-19.49,"o":0.98,"r":-0.12},{"x":-19.29,"o":0.962,"r":-0.138},{"x":-19.09,"o":0.986,"r":-0.114},{"x":-18.89,"o":0.998,"r":-0.102},{"x":-18.69,"o":0.974,"r":-0.126},{"x":-18.48,"o":0.998,"r":-0.102},{"x":-18.28,"o":0.962,"r":-0.138},{"x":-18.08,"o":1.022,"r":-0.078},{"x":-17.88,"o":0.974,"r":-0.126},{"x":-17.67,"o":0.956,"r":-0.144},{"x":-17.47,"o":1.01,"r":-0.09},{"x":-17.27,"o":0.98,"r":-0.12},{"x":-17.07,"o":0.963,"r":-0.13},{"x":-16.86,"o":0.944,"r":-0.14},{"x":-16.66,"o":0.883,"r":-0.165},{"x":-16.46,"o":0.935,"r":-0.06},{"x":-16.26,"o":0.845,"r":-0.07},{"x":-16.05,"o":0.729,"r":-0.08},{"x":-15.85,"o":0.585,"r":-0.09},{"x":-15.65,"o":0.457,"r":-0.08},{"x":-15.45,"o":0.341,"r":-0.075},{"x":-15.24,"o":0.212,"r":-0.09},{"x":-15.04,"o":0.127,"r":-0.085},{"x":-14.84,"o":0.067,"r":-0.1},{"x":-14.64,"o":0.032,"r":-0.105},{"x":-14.44,"o":0.028,"r":-0.095},{"x":-14.23,"o":0.019,"r":-0.105},{"x":-14.03,"o":0.037,"r":-0.1},{"x":-13.83,"o":0.085,"r":-0.08},{"x":-13.63,"o":0.121,"r":-0.095},{"x":-13.42,"o":0.198,"r":-0.085},{"x":-13.22,"o":0.297,"r":-0.1},{"x":-13.02,"o":0.448,"r":-0.09},{"x":-12.82,"o":0.652,"r":-0.025},{"x":-12.61,"o":0.799,"r":-0.04},{"x":-12.41,"o":0.851,"r":-0.115},{"x":-12.21,"o":0.903,"r":-0.135},{"x":-12.01,"o":0.94,"r":-0.14},{"x":-11.8,"o":1.006,"r":-0.09},{"x":-11.6,"o":0.979,"r":-0.12},{"x":-11.4,"o":0.968,"r":-0.132},{"x":-11.2,"o":1.022,"r":-0.078},{"x":-10.99,"o":0.98,"r":-0.12},{"x":-10.79,"o":0.992,"r":-0.108},{"x":-10.59,"o":0.956,"r":-0.144},{"x":-10.39,"o":1.004,"r":-0.096},{"x":-10.18,"o":1.028,"r":-0.072},{"x":-9.98,"o":1.01,"r":-0.09},{"x":-9.78,"o":1.034,"r":-0.066},{"x":-9.58,"o":0.992,"r":-0.108},{"x":-9.38,"o":1.028,"r":-0.072},{"x":-9.17,"o":1.004,"r":-0.096},{"x":-8.97,"o":0.986,"r":-0.114},{"x":-8.77,"o":1.004,"r":-0.096},{"x":-8.57,"o":0.998,"r":-0.102},{"x":-8.36,"o":0.986,"r":-0.114},{"x":-8.16,"o":1.016,"r":-0.084},{"x":-7.96,"o":1.01,"r":-0.09},{"x":-7.76,"o":1.04,"r":-0.06},{"x":-7.55,"o":0.998,"r":-0.102},{"x":-7.35,"o":1.046,"r":-0.054},{"x":-7.15,"o":1.01,"r":-0.09},{"x":-6.95,"o":1.084,"r":-0.016},{"x":-6.74,"o":1.004,"r":-0.096},{"x":-6.54,"o":0.968,"r":-0.132},{"x":-6.34,"o":1.034,"r":-0.066},{"x":-6.14,"o":0.998,"r":-0.102},{"x":-5.93,"o":1.028,"r":-0.072},{"x":-5.73,"o":0.998,"r":-0.102},{"x":-5.53,"o":1.01,"r":-0.09},{"x":-5.33,"o":0.98,"r":-0.12},{"x":-5.12,"o":1.004,"r":-0.096},{"x":-4.92,"o":0.992,"r":-0.108},{"x":-4.72,"o":1.022,"r":-0.078},{"x":-4.52,"o":1.004,"r":-0.096},{"x":-4.32,"o":1.01,"r":-0.09},{"x":-4.11,"o":0.994,"r":-0.106},{"x":-3.91,"o":0.956,"r":-0.144},{"x":-3.71,"o":0.986,"r":-0.114},{"x":-3.51,"o":0.926,"r":-0.174},{"x":-3.3,"o":0.95,"r":-0.15},{"x":-3.1,"o":0.986,"r":-0.114},{"x":-2.9,"o":1.034,"r":-0.066},{"x":-2.7,"o":0.998,"r":-0.102},{"x":-2.49,"o":1.016,"r":-0.084},{"x":-2.29,"o":1.034,"r":-0.066},{"x":-2.09,"o":1.004,"r":-0.096},{"x":-1.89,"o":0.992,"r":-0.108},{"x":-1.68,"o":1.034,"r":-0.066},{"x":-1.48,"o":0.986,"r":-0.114},{"x":-1.28,"o":1.028,"r":-0.072},{"x":-1.08,"o":1.016,"r":-0.084},{"x":-0.87,"o":1.04,"r":-0.06},{"x":-0.67,"o":0.986,"r":-0.114},{"x":-0.47,"o":1.01,"r":-0.09},{"x":-0.27,"o":1.052,"r":-0.048},{"x":-0.06,"o":0.974,"r":-0.126},{"x":0.14,"o":0.992,"r":-0.108},{"x":0.34,"o":0.974,"r":-0.126},{"x":0.54,"o":1.01,"r":-0.09},{"x":0.75,"o":1.034,"r":-0.066},{"x":0.95,"o":0.992,"r":-0.108},{"x":1.15,"o":1.016,"r":-0.084},{"x":1.35,"o":0.974,"r":-0.126},{"x":1.55,"o":0.956,"r":-0.144},{"x":1.76,"o":0.992,"r":-0.108},{"x":1.96,"o":0.974,"r":-0.126},{"x":2.16,"o":0.998,"r":-0.102},{"x":2.36,"o":1.01,"r":-0.09},{"x":2.57,"o":1.016,"r":-0.084},{"x":2.77,"o":0.992,"r":-0.108},{"x":2.97,"o":1.028,"r":-0.072},{"x":3.17,"o":0.98,"r":-0.12},{"x":3.38,"o":1.01,"r":-0.09},{"x":3.58,"o":1.034,"r":-0.066},{"x":3.78,"o":0.986,"r":-0.114},{"x":3.98,"o":1.031,"r":-0.069},{"x":4.19,"o":1.01,"r":-0.09},{"x":4.39,"o":0.986,"r":-0.114},{"x":4.59,"o":0.956,"r":-0.144},{"x":4.79,"o":0.98,"r":-0.12},{"x":5,"o":0.98,"r":-0.12}],
"n2Fit":[{"x":-25,"y":1},{"x":-17.18,"y":1},{"x":-16.79,"y":0.9856},{"x":-16.5,"y":0.9378},{"x":-16.31,"y":0.878},{"x":-16.11,"y":0.794},{"x":-15.92,"y":0.6865},{"x":-15.72,"y":0.555},{"x":-15.53,"y":0.4233},{"x":-15.33,"y":0.3037},{"x":-15.14,"y":0.196},{"x":-14.94,"y":0.1122},{"x":-14.65,"y":0.0464},{"x":-14.36,"y":0.0225},{"x":-14.16,"y":0.0225},{"x":-13.87,"y":0.0404},{"x":-13.67,"y":0.0763},{"x":-13.48,"y":0.1302},{"x":-13.28,"y":0.196},{"x":-13.09,"y":0.3156},{"x":-12.89,"y":0.4592},{"x":-12.7,"y":0.5908},{"x":-12.5,"y":0.7463},{"x":-12.31,"y":0.866},{"x":-12.11,"y":0.9378},{"x":-11.92,"y":0.9797},{"x":-11.63,"y":0.9976},{"x":-11.33,"y":1},{"x":5,"y":1}],
"n2Dot":[{"x":-18,"y":1},{"x":-16.99,"y":1},{"x":-16.5,"y":0.9797},{"x":-16.21,"y":0.9019},{"x":-16.01,"y":0.8181},{"x":-15.82,"y":0.69},{"x":-15.62,"y":0.545},{"x":-15.43,"y":0.37},{"x":-15.14,"y":0.196},{"x":-14.94,"y":0.1122},{"x":-14.65,"y":0.0464},{"x":-14.36,"y":0.0225},{"x":-14.16,"y":0.0225},{"x":-13.87,"y":0.0404},{"x":-13.67,"y":0.0763},{"x":-13.48,"y":0.1302},{"x":-13.28,"y":0.196},{"x":-13.09,"y":0.3156},{"x":-12.89,"y":0.47},{"x":-12.7,"y":0.62},{"x":-12.5,"y":0.785},{"x":-12.35,"y":0.9019},{"x":-12.15,"y":0.9737},{"x":-11.92,"y":0.9976},{"x":-11.72,"y":1},{"x":-10.5,"y":1}],
"n2DotRes":[{"x":-16.46,"y":-0.1},{"x":-16.26,"y":-0.13},{"x":-16.05,"y":-0.16},{"x":-15.85,"y":-0.14},{"x":-15.65,"y":-0.105},{"x":-15.45,"y":-0.085},{"x":-15.24,"y":-0.07},{"x":-15.04,"y":-0.065},{"x":-14.84,"y":-0.065},{"x":-14.64,"y":-0.07},{"x":-14.44,"y":-0.075},{"x":-14.23,"y":-0.085},{"x":-14.03,"y":-0.08},{"x":-13.83,"y":-0.07},{"x":-13.63,"y":-0.065},{"x":-13.42,"y":-0.065},{"x":-13.22,"y":-0.07},{"x":-13.02,"y":-0.075},{"x":-12.82,"y":-0.09},{"x":-12.61,"y":-0.13},{"x":-12.41,"y":-0.16},{"x":-12.21,"y":-0.175},{"x":-12.01,"y":-0.165},{"x":-11.8,"y":-0.13},{"x":-11.6,"y":-0.1}],
"n2Seg":[{"x":-14.94,"x2":-14.32,"y":1.0311,"y2":1.0311},{"x":-14.94,"x2":-14.94,"y":0.9497,"y2":1.0311},{"x":-14.32,"x2":-14.32,"y":0.9497,"y2":1.0311},{"x":-13.91,"x2":-13.28,"y":1.0814,"y2":1.0814},{"x":-13.91,"x2":-13.91,"y":1.0,"y2":1.0814},{"x":-13.28,"x2":-13.28,"y":1.0,"y2":1.0814}],
"n2Lab":[{"x":3.77,"y":0.0765,"t":"Na λ3302"}],
"n3":[{"x":-24.96,"o":0.986,"r":-0.114},{"x":-24.76,"o":0.944,"r":-0.156},{"x":-24.56,"o":1.004,"r":-0.096},{"x":-24.35,"o":0.986,"r":-0.114},{"x":-24.15,"o":0.986,"r":-0.114},{"x":-23.95,"o":0.956,"r":-0.144},{"x":-23.75,"o":0.992,"r":-0.108},{"x":-23.54,"o":1.01,"r":-0.09},{"x":-23.34,"o":1.022,"r":-0.078},{"x":-23.14,"o":0.998,"r":-0.102},{"x":-22.94,"o":1.004,"r":-0.096},{"x":-22.73,"o":0.992,"r":-0.108},{"x":-22.53,"o":0.998,"r":-0.102},{"x":-22.33,"o":1.01,"r":-0.09},{"x":-22.13,"o":0.992,"r":-0.108},{"x":-21.92,"o":1.028,"r":-0.072},{"x":-21.72,"o":1.004,"r":-0.096},{"x":-21.52,"o":1.016,"r":-0.084},{"x":-21.32,"o":0.992,"r":-0.108},{"x":-21.11,"o":0.962,"r":-0.138},{"x":-20.91,"o":1.004,"r":-0.096},{"x":-20.71,"o":0.962,"r":-0.138},{"x":-20.51,"o":0.986,"r":-0.114},{"x":-20.3,"o":1.016,"r":-0.084},{"x":-20.1,"o":0.974,"r":-0.126},{"x":-19.9,"o":1.04,"r":-0.06},{"x":-19.7,"o":0.986,"r":-0.114},{"x":-19.49,"o":1.04,"r":-0.06},{"x":-19.29,"o":0.986,"r":-0.114},{"x":-19.09,"o":0.992,"r":-0.108},{"x":-18.89,"o":1.028,"r":-0.072},{"x":-18.69,"o":1.082,"r":-0.018},{"x":-18.48,"o":1.04,"r":-0.06},{"x":-18.28,"o":1.034,"r":-0.066},{"x":-18.08,"o":0.968,"r":-0.132},{"x":-17.88,"o":1.016,"r":-0.084},{"x":-17.67,"o":0.974,"r":-0.126},{"x":-17.47,"o":1.034,"r":-0.066},{"x":-17.27,"o":0.974,"r":-0.126},{"x":-17.07,"o":0.986,"r":-0.114},{"x":-16.86,"o":0.98,"r":-0.12},{"x":-16.66,"o":0.968,"r":-0.125},{"x":-16.46,"o":0.956,"r":-0.13},{"x":-16.26,"o":0.906,"r":-0.138},{"x":-16.05,"o":0.833,"r":-0.14},{"x":-15.85,"o":0.735,"r":-0.135},{"x":-15.65,"o":0.593,"r":-0.14},{"x":-15.45,"o":0.457,"r":-0.12},{"x":-15.24,"o":0.341,"r":-0.095},{"x":-15.04,"o":0.254,"r":-0.09},{"x":-14.84,"o":0.182,"r":-0.105},{"x":-14.64,"o":0.168,"r":-0.092},{"x":-14.44,"o":0.148,"r":-0.1},{"x":-14.23,"o":0.17,"r":-0.09},{"x":-14.03,"o":0.18,"r":-0.11},{"x":-13.83,"o":0.238,"r":-0.115},{"x":-13.63,"o":0.332,"r":-0.105},{"x":-13.42,"o":0.435,"r":-0.112},{"x":-13.22,"o":0.553,"r":-0.12},{"x":-13.02,"o":0.674,"r":-0.13},{"x":-12.82,"o":0.753,"r":-0.165},{"x":-12.61,"o":0.832,"r":-0.17},{"x":-12.41,"o":0.916,"r":-0.14},{"x":-12.21,"o":0.971,"r":-0.11},{"x":-12.01,"o":1.0,"r":-0.095},{"x":-11.8,"o":1.004,"r":-0.096},{"x":-11.6,"o":0.986,"r":-0.114},{"x":-11.4,"o":1.01,"r":-0.09},{"x":-11.2,"o":0.95,"r":-0.15},{"x":-10.99,"o":1.004,"r":-0.096},{"x":-10.79,"o":0.992,"r":-0.108},{"x":-10.59,"o":1.01,"r":-0.09},{"x":-10.39,"o":0.962,"r":-0.138},{"x":-10.18,"o":0.992,"r":-0.108},{"x":-9.98,"o":1.004,"r":-0.096},{"x":-9.78,"o":1.01,"r":-0.09},{"x":-9.58,"o":0.998,"r":-0.102},{"x":-9.38,"o":1.016,"r":-0.084},{"x":-9.17,"o":1.034,"r":-0.066},{"x":-8.97,"o":1.07,"r":-0.03},{"x":-8.77,"o":1.046,"r":-0.054},{"x":-8.57,"o":1.034,"r":-0.066},{"x":-8.36,"o":1.01,"r":-0.09},{"x":-8.16,"o":0.98,"r":-0.12},{"x":-7.96,"o":1.016,"r":-0.084},{"x":-7.76,"o":0.986,"r":-0.114},{"x":-7.55,"o":0.998,"r":-0.102},{"x":-7.35,"o":0.986,"r":-0.114},{"x":-7.15,"o":1.016,"r":-0.084},{"x":-6.95,"o":0.974,"r":-0.126},{"x":-6.74,"o":1.034,"r":-0.066},{"x":-6.54,"o":1.016,"r":-0.084},{"x":-6.34,"o":1.034,"r":-0.066},{"x":-6.14,"o":0.974,"r":-0.126},{"x":-5.93,"o":1.016,"r":-0.084},{"x":-5.73,"o":1.064,"r":-0.036},{"x":-5.53,"o":1.01,"r":-0.09},{"x":-5.33,"o":0.974,"r":-0.126},{"x":-5.12,"o":1.058,"r":-0.042},{"x":-4.92,"o":0.986,"r":-0.114},{"x":-4.72,"o":1.004,"r":-0.096},{"x":-4.52,"o":1.046,"r":-0.054},{"x":-4.32,"o":1.058,"r":-0.042},{"x":-4.11,"o":0.998,"r":-0.102},{"x":-3.91,"o":1.046,"r":-0.054},{"x":-3.71,"o":0.98,"r":-0.12},{"x":-3.51,"o":1.01,"r":-0.09},{"x":-3.3,"o":0.974,"r":-0.126},{"x":-3.1,"o":1.016,"r":-0.084},{"x":-2.9,"o":1.07,"r":-0.03},{"x":-2.7,"o":0.986,"r":-0.114},{"x":-2.49,"o":1.034,"r":-0.066},{"x":-2.29,"o":1.016,"r":-0.084},{"x":-2.09,"o":0.998,"r":-0.102},{"x":-1.89,"o":1.004,"r":-0.096},{"x":-1.68,"o":0.986,"r":-0.114},{"x":-1.48,"o":0.998,"r":-0.102},{"x":-1.28,"o":0.974,"r":-0.126},{"x":-1.08,"o":1.004,"r":-0.096},{"x":-0.87,"o":0.986,"r":-0.114},{"x":-0.67,"o":1.004,"r":-0.096},{"x":-0.47,"o":0.992,"r":-0.108},{"x":-0.27,"o":0.98,"r":-0.12},{"x":-0.06,"o":1.004,"r":-0.096},{"x":0.14,"o":0.986,"r":-0.114},{"x":0.34,"o":0.974,"r":-0.126},{"x":0.54,"o":0.992,"r":-0.108},{"x":0.75,"o":0.974,"r":-0.126},{"x":0.95,"o":1.004,"r":-0.096},{"x":1.15,"o":1.01,"r":-0.09},{"x":1.35,"o":1.028,"r":-0.072},{"x":1.55,"o":1.04,"r":-0.06},{"x":1.76,"o":1.112,"r":0.012},{"x":1.96,"o":1.04,"r":-0.06},{"x":2.16,"o":1.022,"r":-0.078},{"x":2.36,"o":1.046,"r":-0.054},{"x":2.57,"o":0.992,"r":-0.108},{"x":2.77,"o":1.016,"r":-0.084},{"x":2.97,"o":0.986,"r":-0.114},{"x":3.17,"o":1.01,"r":-0.09},{"x":3.38,"o":0.992,"r":-0.108},{"x":3.58,"o":0.938,"r":-0.162},{"x":3.78,"o":1.004,"r":-0.096},{"x":3.98,"o":0.974,"r":-0.126},{"x":4.19,"o":1.058,"r":-0.042},{"x":4.39,"o":0.98,"r":-0.12},{"x":4.59,"o":0.944,"r":-0.156},{"x":4.79,"o":1.04,"r":-0.06},{"x":5,"o":1.04,"r":-0.06}],
"n3Fit":[{"x":-25,"y":1},{"x":-16.76,"y":1},{"x":-16.36,"y":0.9856},{"x":-16.06,"y":0.9198},{"x":-15.85,"y":0.8301},{"x":-15.65,"y":0.7105},{"x":-15.45,"y":0.5549},{"x":-15.25,"y":0.3994},{"x":-15.04,"y":0.2797},{"x":-14.84,"y":0.2079},{"x":-14.64,"y":0.1661},{"x":-14.33,"y":0.1481},{"x":-14.03,"y":0.1661},{"x":-13.83,"y":0.2139},{"x":-13.63,"y":0.2917},{"x":-13.42,"y":0.3874},{"x":-13.22,"y":0.5071},{"x":-13.02,"y":0.6387},{"x":-12.82,"y":0.7703},{"x":-12.61,"y":0.866},{"x":-12.41,"y":0.9378},{"x":-12.21,"y":0.9737},{"x":-11.91,"y":0.9952},{"x":-11.5,"y":1},{"x":5,"y":1}],
"n3Dot":[{"x":-18,"y":1},{"x":-16.56,"y":1},{"x":-16.16,"y":0.9797},{"x":-15.89,"y":0.9019},{"x":-15.71,"y":0.7941},{"x":-15.55,"y":0.6626},{"x":-15.45,"y":0.5549},{"x":-15.25,"y":0.3994},{"x":-15.04,"y":0.2797},{"x":-14.84,"y":0.2079},{"x":-14.64,"y":0.1661},{"x":-14.33,"y":0.1481},{"x":-14.03,"y":0.1661},{"x":-13.83,"y":0.2139},{"x":-13.63,"y":0.2917},{"x":-13.42,"y":0.3874},{"x":-13.22,"y":0.5071},{"x":-13.02,"y":0.6387},{"x":-12.88,"y":0.7463},{"x":-12.72,"y":0.8421},{"x":-12.51,"y":0.9378},{"x":-12.31,"y":0.9797},{"x":-12.01,"y":0.9976},{"x":-11.7,"y":1},{"x":-10.5,"y":1}],
"n3DotRes":[{"x":-16.46,"y":-0.11},{"x":-16.26,"y":-0.14},{"x":-16.05,"y":-0.17},{"x":-15.85,"y":-0.185},{"x":-15.65,"y":-0.16},{"x":-15.45,"y":-0.12},{"x":-15.24,"y":-0.09},{"x":-15.04,"y":-0.085},{"x":-14.84,"y":-0.085},{"x":-14.64,"y":-0.09},{"x":-14.44,"y":-0.09},{"x":-14.23,"y":-0.085},{"x":-14.03,"y":-0.1},{"x":-13.83,"y":-0.105},{"x":-13.63,"y":-0.1},{"x":-13.42,"y":-0.11},{"x":-13.22,"y":-0.13},{"x":-13.02,"y":-0.17},{"x":-12.82,"y":-0.19},{"x":-12.61,"y":-0.15},{"x":-12.41,"y":-0.11},{"x":-12.21,"y":-0.1},{"x":-12.01,"y":-0.1}],
"n3Seg":[{"x":-14.9,"x2":-14.23,"y":1.0311,"y2":1.0311},{"x":-14.9,"x2":-14.9,"y":0.9497,"y2":1.0311},{"x":-14.23,"x2":-14.23,"y":0.9497,"y2":1.0311},{"x":-13.89,"x2":-13.22,"y":1.0814,"y2":1.0814},{"x":-13.89,"x2":-13.89,"y":1.0,"y2":1.0814},{"x":-13.22,"x2":-13.22,"y":1.0,"y2":1.0814},
{"x":-4.93,"x2":-4.93,"y":0.4976,"y2":0.6627},{"x":-6.07,"x2":-5.25,"y":0.6124,"y2":0.579},{"x":-6.07,"x2":-5.25,"y":0.5492,"y2":0.579},{"x":-4.13,"x2":-4.93,"y":0.6124,"y2":0.579},{"x":-4.13,"x2":-4.93,"y":0.5492,"y2":0.579}],
"n3Thick":[{"x":-5.25,"x2":-5.25,"y":0.4976,"y2":0.6627}],
"n3R":[{"x":-3.39,"y":0.543,"t":"R"}],
"n3Lab":[{"x":3.88,"y":0.0765,"t":"Na λ3303"}]
}
}
